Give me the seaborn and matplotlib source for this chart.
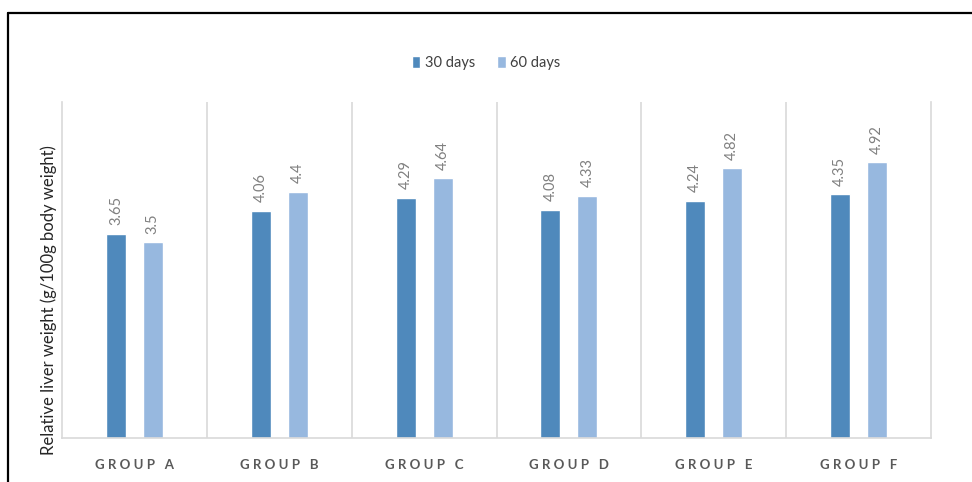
import pandas as pd
import seaborn as sns
import matplotlib.pyplot as plt
from matplotlib.lines import Line2D

# Chart values
groups = ["GROUP A", "GROUP B", "GROUP C", "GROUP D", "GROUP E", "GROUP F"]
days_30 = [3.65, 4.06, 4.29, 4.08, 4.24, 4.35]
days_60 = [3.5, 4.4, 4.64, 4.33, 4.82, 4.92]
series = ["30 days", "60 days"]
colors = ["#4F89BC", "#97B8DF"]

df = pd.DataFrame({
    "group": groups * 2,
    "period": [series[0]] * len(groups) + [series[1]] * len(groups),
    "value": days_30 + days_60,
})

sns.set_style("white")
plt.rcParams["font.family"] = ["Lato", "DejaVu Sans"]

fig = plt.figure(figsize=(9.72, 4.82), dpi=100)
ax = fig.add_axes([62 / 972, 1 - 438 / 482, (931 - 62) / 972, (438 - 102) / 482])

sns.barplot(data=df, x="group", y="value", hue="period", palette=colors,
            width=0.51, gap=0.46, saturation=1, errorbar=None, ax=ax)

# Value labels above bars
for cont in ax.containers:
    ax.bar_label(cont, labels=[f"{v:g}" for v in cont.datavalues], rotation=90,
                 padding=6, fontsize=10.5, color="#808080")

ax.set_ylim(0, 6.0)
ax.set_xlim(-0.5, len(groups) - 0.5)
ax.set_yticks([])
ax.set_xlabel("")
ax.set_ylabel("Relative liver weight (g/100g body weight)", fontsize=12,
              color="#262626")
ax.yaxis.set_label_coords(-0.006, 0.41)

# Spaced-out tick labels
ax.set_xticks(range(len(groups)))
ax.set_xticklabels([" ".join(g) for g in groups], fontsize=9.5, color="#595959",
                   fontweight="bold")
ax.tick_params(axis="x", length=0, pad=15)

# Category separators and frame
for i in range(len(groups) - 1):
    ax.axvline(i + 0.5, color="#D9D9D9", lw=1.2, zorder=0)
for side in ["left", "right", "bottom"]:
    ax.spines[side].set_color("#D9D9D9")
    ax.spines[side].set_linewidth(1.2)
ax.spines["top"].set_visible(False)

# Legend
handles, labels = ax.get_legend_handles_labels()
ax.legend(handles, labels, loc="center", bbox_to_anchor=(0.5, 1 - 63 / 482),
          bbox_transform=fig.transFigure, ncol=2, frameon=False, fontsize=10.5,
          handlelength=0.6, handleheight=0.9, handletextpad=0.3, columnspacing=1.5,
          labelcolor="#404040")

# Outer border lines (top and left)
top_y = 1 - 12.5 / 482
left_x = 7.5 / 972
fig.add_artist(Line2D([left_x, 1], [top_y, top_y], color="black", lw=1.6,
                      transform=fig.transFigure))
fig.add_artist(Line2D([left_x, left_x], [0, top_y], color="black", lw=1.6,
                      transform=fig.transFigure))

fig.savefig("out.png", dpi=100)
